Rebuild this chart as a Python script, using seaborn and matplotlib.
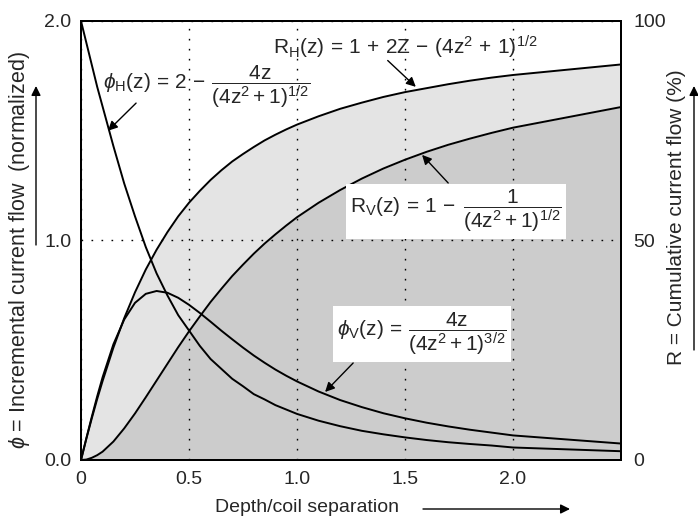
import matplotlib
matplotlib.use("Agg")
import matplotlib.pyplot as plt
import seaborn as sns
import pandas as pd

# ---- data ----
z = [0, 0.025, 0.05, 0.075, 0.1, 0.15, 0.2, 0.25, 0.3, 0.35, 0.4, 0.45, 0.5,
     0.55, 0.6, 0.65, 0.7, 0.75, 0.8, 0.85, 0.9, 0.95, 1.0,
     1.1, 1.2, 1.3, 1.4, 1.5, 1.6, 1.7, 1.8, 1.9, 2.0, 2.5]
phi_h = [2.00, 1.90, 1.80, 1.70, 1.61, 1.43, 1.26, 1.11, 0.97, 0.85, 0.75, 0.66, 0.59,
         0.52, 0.46, 0.415, 0.37, 0.336, 0.30, 0.276, 0.25, 0.23, 0.21,
         0.179, 0.154, 0.133, 0.117, 0.103, 0.091, 0.081, 0.073, 0.066, 0.057, 0.04]
phi_v = [0.00, 0.10, 0.197, 0.29, 0.377, 0.527, 0.640, 0.716, 0.757, 0.770, 0.762, 0.739, 0.707,
         0.670, 0.630, 0.589, 0.550, 0.512, 0.476, 0.443, 0.412, 0.384, 0.358,
         0.312, 0.273, 0.241, 0.213, 0.190, 0.170, 0.153, 0.138, 0.125, 0.112, 0.075]
r_h = [0.0, 4.9, 9.5, 13.9, 18.0, 25.6, 32.3, 38.2, 43.4, 47.9, 51.9, 55.5, 58.6,
       61.3, 63.8, 66.0, 68.0, 69.7, 71.3, 72.8, 74.1, 75.3, 76.4,
       78.3, 80.0, 81.4, 82.7, 83.8, 84.7, 85.6, 86.4, 87.1, 87.7, 90.1]
r_v = [0.0, 0.1, 0.5, 1.1, 1.9, 4.2, 7.2, 10.6, 14.3, 18.1, 21.9, 25.7, 29.3,
       32.7, 36.0, 39.0, 41.9, 44.5, 47.0, 49.3, 51.4, 53.4, 55.3,
       58.6, 61.5, 64.1, 66.4, 68.4, 70.2, 71.8, 73.2, 74.5, 75.7, 80.4]

x_ticks = [0, 0.5, 1.0, 1.5, 2.0]
x_tick_labels = ["0", "0.5", "1.0", "1.5", "2.0"]
y_ticks = [0, 1.0, 2.0]
y_tick_labels = ["0.0", "1.0", "2.0"]
r_ticks = [0, 50, 100]
r_tick_labels = ["0", "50", "100"]

df = pd.DataFrame({"z": z, "phi_h": phi_h, "phi_v": phi_v, "r_h": r_h, "r_v": r_v})

sns.set_style("white")
plt.rcParams["font.family"] = ["Liberation Sans", "DejaVu Sans"]
plt.rcParams["mathtext.fontset"] = "custom"
plt.rcParams["mathtext.rm"] = "Liberation Sans"
plt.rcParams["mathtext.it"] = "Liberation Sans:italic"
plt.rcParams["mathtext.sf"] = "Liberation Sans"

FS = 14
EQ = 15
fig = plt.figure(figsize=(6.98, 5.19), dpi=100)
ax = fig.add_axes([81/698, 1-460/519, 540/698, 439/519])
ax2 = ax.twinx()

# cumulative curves on the right axis
ax2.fill_between(df["z"], 0, df["r_v"], color="#cccccc", lw=0)
ax2.fill_between(df["z"], df["r_v"], df["r_h"], color="#e4e4e4", lw=0)
sns.lineplot(data=df, x="z", y="r_h", ax=ax2, color="black", lw=1.4, sort=False, estimator=None)
sns.lineplot(data=df, x="z", y="r_v", ax=ax2, color="black", lw=1.4, sort=False, estimator=None)
ax2.set_ylim(0, 100)
ax2.set_yticks(r_ticks)
ax2.set_yticklabels(r_tick_labels, fontsize=FS)
ax2.set_ylabel("")
ax2.tick_params(axis="y", length=0, pad=9)

# incremental curves on the left axis
ax.set_zorder(ax2.get_zorder() + 1)
ax.patch.set_visible(False)
sns.lineplot(data=df, x="z", y="phi_h", ax=ax, color="black", lw=1.4, sort=False, estimator=None)
sns.lineplot(data=df, x="z", y="phi_v", ax=ax, color="black", lw=1.4, sort=False, estimator=None)
ax.set_xlim(0, 2.5)
ax.set_ylim(0, 2.0)
ax.set_xticks(x_ticks)
ax.set_xticklabels(x_tick_labels, fontsize=FS)
ax.set_yticks(y_ticks)
ax.set_yticklabels(y_tick_labels, fontsize=FS)
ax.set_xlabel("")
ax.set_ylabel("")
ax.tick_params(axis="both", length=0)
ax.tick_params(axis="x", pad=8)
ax.tick_params(axis="y", pad=7)
ax.grid(True, color="black", lw=1.0, linestyle=(0, (1.2, 6)))

for a in (ax, ax2):
    for s in a.spines.values():
        s.set_color("black")
        s.set_linewidth(1.4)

arrow = dict(arrowstyle="-|>", color="black", lw=1.0, mutation_scale=14, shrinkA=0, shrinkB=0)
box = dict(boxstyle="square,pad=0.2", fc="white", ec="none")

ax.text(0.583, 1.70,
        r"$\phi_{\mathrm{H}}(\mathrm{z})\,=\,2\,-\,\dfrac{4\mathrm{z}}{(4\mathrm{z}^2+1)^{1/2}}$",
        fontsize=EQ, ha="center", va="center", zorder=5)
ax.annotate("", xy=(0.125, 1.50), xytext=(0.255, 1.626), arrowprops=arrow, zorder=5)

ax.text(1.5, 1.88,
        r"$\mathrm{R_H(z)}\,=\,1\,+\,2\mathrm{Z}\,-\,(4\mathrm{z}^2\,+\,1)^{1/2}$",
        fontsize=EQ, ha="center", va="center", zorder=5)
ax.annotate("", xy=(1.55, 1.70), xytext=(1.42, 1.82), arrowprops=arrow, zorder=5)

ax.text(1.736, 1.134,
        r"$\mathrm{R_V(z)}\,=\,1\,-\;\dfrac{1}{(4\mathrm{z}^2+1)^{1/2}}$",
        fontsize=EQ, ha="center", va="center", bbox=box, zorder=6)
ax.annotate("", xy=(1.579, 1.39), xytext=(1.70, 1.262), arrowprops=arrow, zorder=5)

ax.text(1.579, 0.574,
        r"$\phi_{\mathrm{V}}(\mathrm{z})\,=\,\dfrac{4\mathrm{z}}{(4\mathrm{z}^2+1)^{3/2}}$",
        fontsize=EQ, ha="center", va="center", bbox=box, zorder=6)
ax.annotate("", xy=(1.13, 0.31), xytext=(1.26, 0.442), arrowprops=arrow, zorder=5)

# axis titles with arrows
fig.text(20/698, 1-250/519, r"$\phi$ = Incremental current flow  (normalized)",
         rotation=90, ha="center", va="center", fontsize=15.5)
fig.text(676/698, 1-217/519, "R = Cumulative current flow (%)",
         rotation=90, ha="center", va="center", fontsize=15)
fig.text(307/698, 1-507/519, "Depth/coil separation", ha="center", va="center", fontsize=FS)

farrow = dict(arrowstyle="-|>", color="black", lw=1.0, mutation_scale=14, shrinkA=0, shrinkB=0)
ax.annotate("", xy=(36/698, 1-86/519), xytext=(36/698, 1-245/519),
            xycoords="figure fraction", textcoords="figure fraction", arrowprops=farrow)
ax.annotate("", xy=(694/698, 1-86/519), xytext=(694/698, 1-350/519),
            xycoords="figure fraction", textcoords="figure fraction", arrowprops=farrow)
ax.annotate("", xy=(570/698, 1-509/519), xytext=(423/698, 1-509/519),
            xycoords="figure fraction", textcoords="figure fraction", arrowprops=farrow)

fig.savefig("out.png", dpi=100)
